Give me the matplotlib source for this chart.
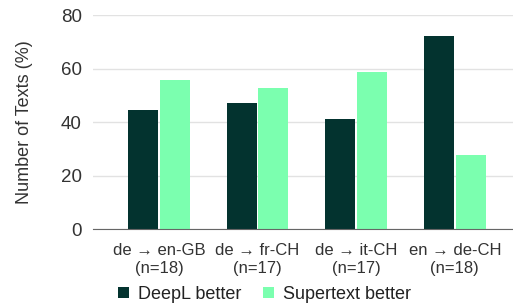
import numpy as np
import matplotlib
matplotlib.use('Agg')
import matplotlib.pyplot as plt

plt.rcParams['font.family'] = ['Liberation Sans', 'DejaVu Sans']

# Dados
categorias = ['de → en-GB\n(n=18)', 'de → fr-CH\n(n=17)', 'de → it-CH\n(n=17)', 'en → de-CH\n(n=18)']
deepl = [44.4, 47.1, 41.2, 72.2]
supertext = [55.6, 52.9, 58.8, 27.8]
yticks = [0, 20, 40, 60, 80]

cor_escura = '#03332F'
cor_clara = '#7BFFAF'

fig = plt.figure(figsize=(5.13, 3.07), dpi=100)
ax = fig.add_axes([0.181, 0.254, 0.819, 0.697])

x = np.arange(len(categorias))
w = 0.305
ax.bar(x - 0.16, deepl, w, color=cor_escura, label='DeepL better', zorder=3)
ax.bar(x + 0.16, supertext, w, color=cor_clara, label='Supertext better', zorder=3)

ax.set_xlim(-0.67, 3.59)
ax.set_ylim(0, 80)
ax.set_yticks(yticks)
ax.set_xticks(x)
ax.set_xticklabels(categorias, fontsize=12, color='#333333', linespacing=1.25)
ax.tick_params(axis='y', labelsize=13.5, colors='#333333', length=0, pad=8)
ax.tick_params(axis='x', length=0, pad=10)
ax.yaxis.grid(True, color='#e2e2e2', linewidth=1, zorder=0)
for s in ['top', 'right', 'left']:
    ax.spines[s].set_visible(False)
ax.spines['bottom'].set_color('#666666')
ax.spines['bottom'].set_zorder(4)
ax.set_ylabel('Number of Texts (%)', fontsize=13, color='#333333', labelpad=20)

fig.legend(loc='lower center', bbox_to_anchor=(0.515, -0.04), ncol=2, frameon=False,
           fontsize=13, handlelength=0.6, handleheight=0.6, handletextpad=0.5,
           columnspacing=1.2, labelcolor='#222222')

fig.savefig('out.png', dpi=100)
